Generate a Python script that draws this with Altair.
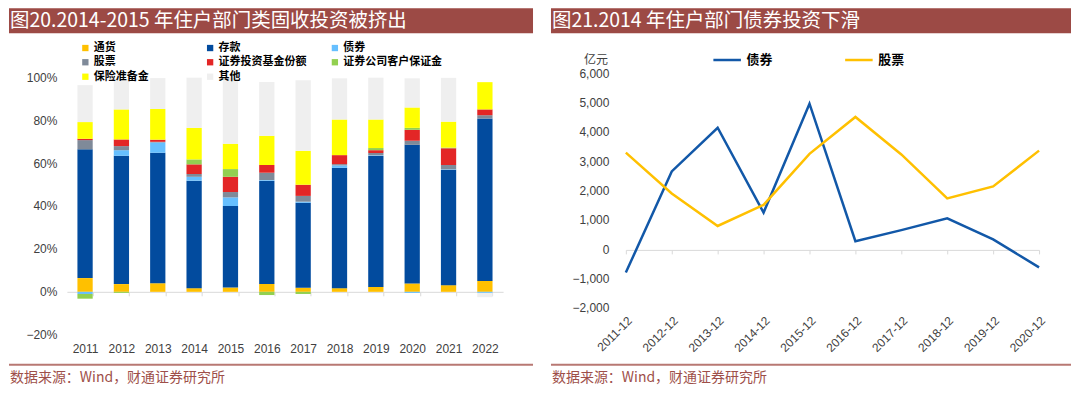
import altair as alt
import pandas as pd

# ---------------- data: left chart (household financial asset shares, %) ----------------
years = [str(y) for y in range(2011, 2023)]
categories = ["通货", "存款", "债券", "股票", "证券投资基金份额", "证券公司客户保证金", "保险准备金", "其他"]
cat_colors = ["#FFC000", "#024B9E", "#66BFFF", "#7F8A99", "#E32626", "#92D050", "#FFFF00", "#EFEFEF"]

currency  = [6.4, 3.6, 4.0, 1.7, 2.0, 3.7, 1.9, 1.7, 2.3, 3.9, 3.1, 5.1]
deposits  = [60.0, 59.8, 60.8, 50.1, 38.0, 48.1, 39.6, 56.1, 61.0, 64.6, 53.8, 75.7]
bonds_sh  = [-1.0, 2.6, 4.8, 1.8, 4.0, 0.3, 0.5, 1.1, 0.3, -0.5, 0.2, -0.5]
stocks_sh = [4.3, 1.9, 0.3, 1.3, 2.5, 3.4, 2.7, 0.6, 1.1, 1.9, 2.0, 1.5]
funds     = [0.6, 3.1, 1.0, 4.5, 7.1, 3.6, 5.2, 4.2, 1.3, 5.1, 7.8, 2.7]
margin    = [-2.2, -0.5, 0.0, 2.3, 3.6, -1.5, -1.0, 0.0, 1.0, 0.9, 0.3, 0.0]
insurance = [7.8, 14.0, 14.3, 14.7, 11.8, 13.6, 15.8, 16.6, 13.3, 9.5, 12.1, 12.7]
others    = [17.2, 14.1, 14.4, 23.4, 30.8, 25.1, 32.9, 19.2, 19.5, 13.6, 20.4, -2.0]
share_series = [currency, deposits, bonds_sh, stocks_sh, funds, margin, insurance, others]

# ---------------- data: right chart (亿元) ----------------
dates = [f"{y}-12" for y in range(2011, 2021)]
line_names = ["债券", "股票"]
line_colors = ["#1258A8", "#FFC000"]
bond_inv  = [-800, 2650, 4140, 1250, 4960, 270, 650, 1050, 330, -620]
stock_inv = [3290, 1900, 790, 1510, 3250, 4510, 3230, 1730, 2140, 3360]

# ---------------- tables ----------------
rows = []
for ci, (cat, vals) in enumerate(zip(categories, share_series)):
    for yr, v in zip(years, vals):
        rows.append({"year": yr, "cat": cat, "ord": ci, "v": v / 100.0})
bar_df = pd.DataFrame(rows)

lrows = []
for name, vals in zip(line_names, [bond_inv, stock_inv]):
    for d, v in zip(dates, vals):
        lrows.append({"date": d, "series": name, "value": v})
line_df = pd.DataFrame(lrows)

CJK = "Noto Sans CJK SC"
NUM = "Liberation Sans"
TITLE_BG = "#9C4A45"
FOOT_LINE = "#B87873"
FOOT_TXT = "#9E4F49"
one = alt.Data(values=[{"k": 1}])


def decorations(x0, x1, title, foot_y=292):
    rect = alt.Chart(one).mark_rect(color=TITLE_BG).encode(
        x=alt.value(x0), x2=alt.value(x1), y=alt.value(-65), y2=alt.value(-40))
    ttl = alt.Chart(one).mark_text(
        text=title, font=CJK, fontSize=19.5, color="white", align="left", baseline="middle"
    ).encode(x=alt.value(x0 + 1), y=alt.value(-52))
    fline = alt.Chart(one).mark_rule(color=FOOT_LINE, strokeWidth=2).encode(
        x=alt.value(x0), x2=alt.value(x1), y=alt.value(foot_y))
    ftxt = alt.Chart(one).mark_text(
        text="数据来源：Wind，财通证券研究所", font=CJK, fontSize=14, color=FOOT_TXT,
        align="left", baseline="middle"
    ).encode(x=alt.value(x0 + 1), y=alt.value(foot_y + 13))
    return [rect, ttl, fline, ftxt]


# ---------------- left chart ----------------
WL, HL = 437, 262
bars = alt.Chart(bar_df).mark_bar().encode(
    x=alt.X("year:N", sort=years,
            scale=alt.Scale(paddingInner=0.58, paddingOuter=0.29),
            axis=alt.Axis(title=None, offset=-43, domainColor="#D9D9D9", tickColor="#D9D9D9",
                          tickSize=4, tickBand="extent", labelPadding=48, labelAngle=0,
                          labelFont=NUM, labelFontSize=12, labelColor="#404040")),
    y=alt.Y("v:Q", stack="zero",
            scale=alt.Scale(domain=[-0.2, 1.0186], nice=False, zero=False),
            axis=alt.Axis(title=None, values=[-0.2, 0, 0.2, 0.4, 0.6, 0.8, 1.0], format=".0%",
                          grid=False, domain=False, ticks=False, labelPadding=10,
                          labelFont=NUM, labelFontSize=12, labelColor="#404040")),
    color=alt.Color("cat:N", scale=alt.Scale(domain=categories, range=cat_colors),
                    legend=alt.Legend(title=None, orient="none", legendX=13, legendY=-31,
                                      direction="horizontal", columns=3, gridAlign="all",
                                      symbolType="square", symbolSize=40, symbolStrokeWidth=0,
                                      labelFont=CJK, labelFontWeight="bold", labelFontSize=11,
                                      labelColor="#000000", labelOffset=3, rowPadding=2.5,
                                      columnPadding=12, labelLimit=300)),
    order=alt.Order("ord:Q", sort="ascending"),
)
left = alt.layer(bars, *decorations(-58, 467, "图20.2014-2015 年住户部门类固收投资被挤出")).properties(
    width=WL, height=HL)

# ---------------- right chart ----------------
WR, HR = 414, 235
lines = alt.Chart(line_df).mark_line(strokeWidth=2.5).encode(
    x=alt.X("date:N", sort=dates, scale=alt.Scale(type="point", padding=0),
            axis=alt.Axis(title=None, offset=-58, domainColor="#D9D9D9", tickColor="#D9D9D9",
                          tickSize=4, labelAngle=-45, labelPadding=61,
                          labelFont=NUM, labelFontSize=12, labelColor="#404040")),
    y=alt.Y("value:Q", scale=alt.Scale(domain=[-2000, 6000], nice=False),
            axis=alt.Axis(title=None, values=list(range(-2000, 7000, 1000)), format=",d",
                          grid=False, domain=False, ticks=False, labelPadding=17,
                          labelFont=NUM, labelFontSize=12, labelColor="#404040")),
    color=alt.Color("series:N", scale=alt.Scale(domain=line_names, range=line_colors),
                    legend=alt.Legend(title=None, orient="none", legendX=86, legendY=-29,
                                      direction="horizontal", symbolType="stroke",
                                      symbolSize=760, symbolStrokeWidth=2.5, labelFont=CJK,
                                      labelFontWeight="bold", labelFontSize=13,
                                      labelColor="#000000", labelOffset=4, columnPadding=66)),
)
unit = alt.Chart(one).mark_text(text="亿元", font=CJK, fontSize=12, color="#404040",
                                align="center", baseline="middle").encode(
    x=alt.value(-30), y=alt.value(-13))
right = alt.layer(lines, unit, *decorations(-75, 446, "图21.2014 年住户部门债券投资下滑")).properties(
    width=WR, height=HR)

chart = alt.hconcat(left, right, spacing=123, bounds="flush").resolve_scale(
    color="independent"
).resolve_legend(color="independent").properties(
    padding=0, background="white"
).configure_view(stroke=None)

chart.save("out.html", embed_options={"renderer": "svg", "actions": False})
